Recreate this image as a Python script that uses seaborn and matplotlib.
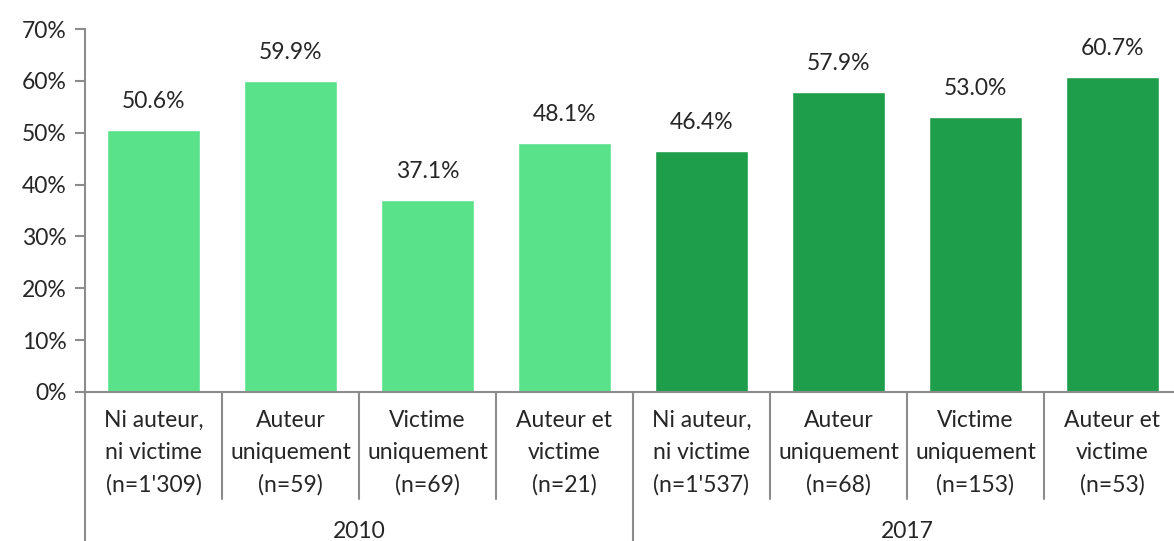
import pandas as pd
import seaborn as sns
from matplotlib import pyplot as plt
import matplotlib.transforms as mtransforms

# data
years = ["2010", "2010", "2010", "2010", "2017", "2017", "2017", "2017"]
categories = [
    "Ni auteur,\nni victime\n(n=1'309)",
    "Auteur\nuniquement\n(n=59)",
    "Victime\nuniquement\n(n=69)",
    "Auteur et\nvictime\n(n=21)",
    "Ni auteur,\nni victime\n(n=1'537)",
    "Auteur\nuniquement\n(n=68)",
    "Victime\nuniquement\n(n=153)",
    "Auteur et\nvictime\n(n=53)",
]
values = [50.6, 59.9, 37.1, 48.1, 46.4, 57.9, 53.0, 60.7]
year_labels = ["2010", "2017"]
palette = {"2010": "#5AE28A", "2017": "#1E9E4A"}

df = pd.DataFrame({
    "key": [f"{y}|{c}" for y, c in zip(years, categories)],
    "year": years,
    "category": categories,
    "value": values,
})

sns.set_theme(style="white")
plt.rcParams["font.family"] = ["Lato", "DejaVu Sans"]
fs = 16.5

fig = plt.figure(figsize=(11.74, 5.41), dpi=100)
# axes is wider than the figure on the right, like in the reference
ax = fig.add_axes([85 / 1174, 149 / 541, 1096 / 1174, 363 / 541])

sns.barplot(data=df, x="key", y="value", hue="year", palette=palette,
            dodge=False, width=0.68, legend=False, ax=ax, saturation=1)

ax.set_ylim(0, 70)
ax.set_xlim(-0.5, len(values) - 0.5)
ax.set_yticks(range(0, 71, 10))
ax.set_yticklabels([f"{v}%" for v in range(0, 71, 10)], fontsize=fs)
ax.set_xlabel("")
ax.set_ylabel("")

axis_color = "#8c8c8c"
for side in ["top", "right"]:
    ax.spines[side].set_visible(False)
for side in ["left", "bottom"]:
    ax.spines[side].set_color(axis_color)
    ax.spines[side].set_linewidth(1.5)
ax.tick_params(axis="y", length=7, width=1.5, color=axis_color, left=True, pad=6)

ax.set_xticks(range(len(values)))
ax.set_xticklabels(df["category"], fontsize=fs, linespacing=1.65)
ax.tick_params(axis="x", length=0, pad=13)

# value labels above the bars
for i, v in enumerate(values):
    ax.annotate(f"{v:.1f}%", (i, v), xytext=(0, 13), textcoords="offset points",
                ha="center", va="bottom", fontsize=fs)

# separators below the axis
trans = mtransforms.blended_transform_factory(ax.transData, ax.transAxes)
for i in range(len(values) + 1):
    x = i - 0.5
    bottom = -0.43 if i % 4 == 0 else -0.295
    ax.plot([x, x], [0, bottom], transform=trans, color=axis_color,
            lw=1.5, clip_on=False)

for g, label in enumerate(year_labels):
    ax.text(g * 4 + 1.5, -0.383, label, transform=trans, ha="center",
            va="center", fontsize=fs)

fig.savefig("out.png", dpi=100)
